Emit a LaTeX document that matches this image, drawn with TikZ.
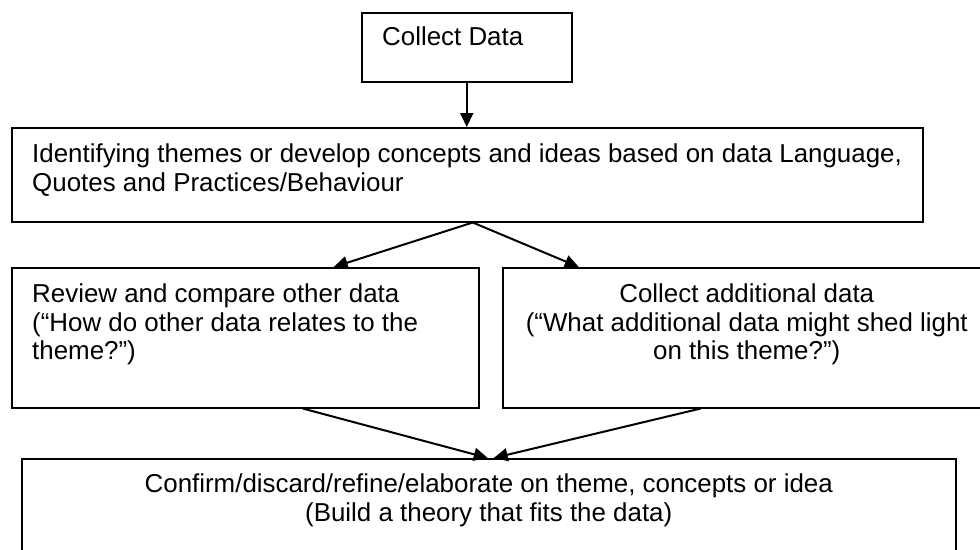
\documentclass[tikz,border=0pt]{standalone}
\usepackage{fontspec}
\setmainfont{Liberation Sans}
\usetikzlibrary{arrows.meta}

\begin{document}
\begin{tikzpicture}[x=1pt,y=-1pt,
  box/.style={draw,line width=1.5pt,inner sep=0pt,anchor=north west},
  txt/.style={inner sep=0pt,font=\fontsize{25.9}{28.5}\selectfont},
  arr/.style={line width=2pt,-{Triangle[length=14pt,width=13pt]}}]
\clip (0,0) rectangle (980,549);

% Boxes
\node[box,minimum width=210pt,minimum height=69pt] (collect) at (361,12) {};
\node[box,minimum width=911pt,minimum height=94pt] (themes) at (11,127) {};
\node[box,minimum width=467pt,minimum height=140pt] (review) at (11,267) {};
\node[box,minimum width=486pt,minimum height=140pt] (extra) at (502,267) {};
\node[box,minimum width=934pt,minimum height=110pt] (confirm) at (21,458) {};

% Texts
\node[txt,anchor=base west] (collect-txt) at ([shift={(21,33)}]collect.north west) {Collect Data};
\node[txt,anchor=north west,align=left] (themes-txt) at ([shift={(21,17)}]themes.north west)
  {Identifying themes or develop concepts and ideas based on data Language,\\Quotes and Practices/Behaviour};
\node[txt,anchor=north west,align=left] (review-txt) at ([shift={(21,17)}]review.north west)
  {Review and compare other data\\(“How do other data relates to the\\theme?”)};
\node[txt,anchor=north,align=center] (extra-txt) at ([shift={(1,17)}]extra.north)
  {Collect additional data\\(“What additional data might shed light\\on this theme?”)};
\node[txt,anchor=north,align=center] (confirm-txt) at ([shift={(0,16)}]confirm.north)
  {Confirm/discard/refine/elaborate on theme, concepts or idea\\(Build a theory that fits the data)};

% Arrows
\draw[arr] (collect.south) -- (collect.south |- themes.north);
\draw[arr] ([shift={(5.5,0)}]themes.south) -- ([shift={(88.5,0)}]review.north);
\draw[arr] ([shift={(5.5,0)}]themes.south) -- ([shift={(-167,0)}]extra.north);
\draw[arr] ([shift={(57.5,0)}]review.south) -- ([shift={(-1,0)}]confirm.north);
\draw[arr] ([shift={(-45,0)}]extra.south) -- ([shift={(5,0)}]confirm.north);
\end{tikzpicture}
\end{document}
